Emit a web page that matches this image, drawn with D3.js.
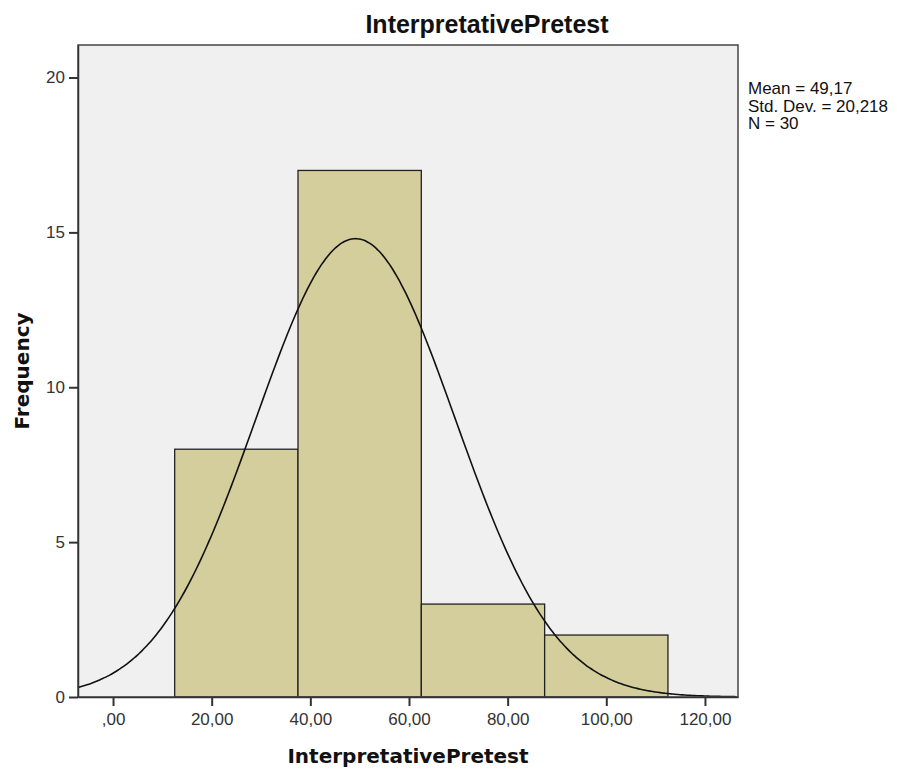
<!DOCTYPE html>
<html>
<head>
<script src="https://d3js.org/d3.v7.min.js"></script>
<style>
  body { margin: 0; background: #fff; }
  text { font-family: "Liberation Sans", Arial, sans-serif; }
</style>
</head>
<body>
<svg id="chart" width="897" height="773"></svg>
<script>
  // histogram bins and counts
  var binStarts = [12.5, 37.5, 62.5, 87.5];
  var binWidth = 25;
  var counts = [8, 17, 3, 2];
  var xTicks = [0, 20, 40, 60, 80, 100, 120];
  var yTicks = [0, 5, 10, 15, 20];
  var statLines = ["Mean = 49,17", "Std. Dev. = 20,218", "N = 30"];
  var mean = 49.17, sd = 20.218, n = 30;

  var svg = d3.select("#chart");
  var plotL = 78, plotR = 738, plotT = 45, plotB = 697;

  var x = d3.scaleLinear().domain([-7.1, 126.7]).range([plotL, plotR]);
  var y = d3.scaleLinear().domain([0, 21.05]).range([plotB, plotT]);

  // plot background
  svg.append("rect")
    .attr("x", plotL).attr("y", plotT)
    .attr("width", plotR - plotL).attr("height", plotB - plotT)
    .attr("fill", "#f0f0f0");

  // bars
  svg.selectAll(".bar")
    .data(counts)
    .enter().append("rect")
    .attr("class", "bar")
    .attr("x", function(d, i) { return x(binStarts[i]); })
    .attr("y", function(d) { return y(d); })
    .attr("width", function(d, i) { return x(binStarts[i] + binWidth) - x(binStarts[i]); })
    .attr("height", function(d) { return y(0) - y(d); })
    .attr("fill", "#d3ce9b")
    .attr("stroke", "#222")
    .attr("stroke-width", 1.3);

  // fitted normal curve
  var curveX = d3.range(-7.1, 126.8, 0.5);
  var line = d3.line()
    .x(function(d) { return x(d); })
    .y(function(d) {
      var z = (d - mean) / sd;
      return y(n * binWidth * Math.exp(-0.5 * z * z) / (sd * Math.sqrt(2 * Math.PI)));
    })
    .curve(d3.curveBasis);

  svg.append("path")
    .datum(curveX)
    .attr("d", line)
    .attr("fill", "none")
    .attr("stroke", "#111")
    .attr("stroke-width", 1.6);

  // frame
  svg.append("rect")
    .attr("x", plotL).attr("y", plotT)
    .attr("width", plotR - plotL).attr("height", plotB - plotT)
    .attr("fill", "none")
    .attr("stroke", "#444")
    .attr("stroke-width", 1.5);

  // axes
  var fmt = function(d) { return d === 0 ? ",00" : d + ",00"; };
  var xAxis = svg.append("g")
    .attr("transform", "translate(0," + plotB + ")")
    .call(d3.axisBottom(x).tickValues(xTicks).tickFormat(fmt).tickSize(9).tickSizeOuter(0));
  var yAxis = svg.append("g")
    .attr("transform", "translate(" + plotL + ",0)")
    .call(d3.axisLeft(y).tickValues(yTicks).tickSize(9).tickSizeOuter(0));

  [xAxis, yAxis].forEach(function(g) {
    g.select(".domain").attr("stroke", "#333").attr("stroke-width", 1.5);
    g.selectAll(".tick line").attr("stroke", "#333").attr("stroke-width", 2);
    g.selectAll(".tick text")
      .attr("font-family", "Liberation Sans, Arial, sans-serif")
      .attr("font-size", 17)
      .attr("fill", "#333");
  });
  xAxis.selectAll(".tick text").attr("y", 12).attr("dy", "0.95em");
  yAxis.selectAll(".tick text").attr("x", -13);

  // titles
  svg.append("text")
    .attr("x", 487).attr("y", 33)
    .attr("text-anchor", "middle")
    .attr("font-size", 25).attr("font-weight", "bold")
    .attr("fill", "#111")
    .text("InterpretativePretest");

  svg.append("text")
    .attr("x", (plotL + plotR) / 2).attr("y", 763)
    .attr("text-anchor", "middle")
    .style("font-family", "'DejaVu Sans', sans-serif")
    .attr("font-size", 20).attr("font-weight", "bold")
    .attr("fill", "#111")
    .text("InterpretativePretest");

  svg.append("text")
    .attr("transform", "translate(29," + (plotT + plotB) / 2 + ") rotate(-90)")
    .attr("text-anchor", "middle")
    .style("font-family", "'DejaVu Sans', sans-serif")
    .attr("font-size", 20).attr("font-weight", "bold")
    .attr("fill", "#111")
    .text("Frequency");

  // stats legend
  svg.selectAll(".stat")
    .data(statLines)
    .enter().append("text")
    .attr("class", "stat")
    .attr("x", 748)
    .attr("y", function(d, i) { return 94 + i * 17.5; })
    .attr("font-size", 17)
    .attr("fill", "#111")
    .text(function(d) { return d; });
</script>
</body>
</html>
